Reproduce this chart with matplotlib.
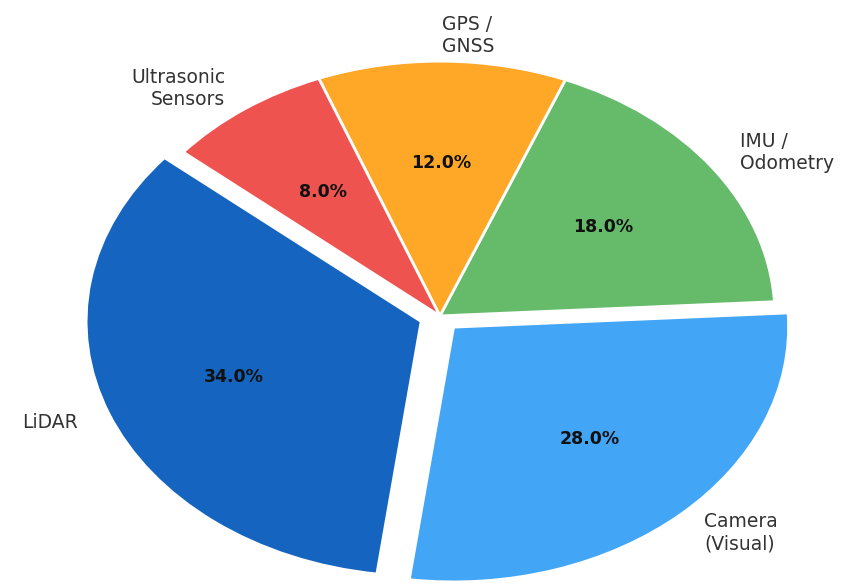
import matplotlib
matplotlib.use("Agg")
import matplotlib.pyplot as plt

labels = ["LiDAR", "Camera\n(Visual)", "IMU /\nOdometry", "GPS /\nGNSS", "Ultrasonic\nSensors"]
values = [34, 28, 18, 12, 8]
colors = ["#1565C0", "#42A5F5", "#66BB6A", "#FFA726", "#EF5350"]
explode = [0.06, 0.06, 0, 0, 0]

fig = plt.figure(figsize=(8.54, 5.86), dpi=100)
ax = fig.add_axes([0, 0, 1, 1])
wedges, texts, autotexts = ax.pie(
    values, labels=labels, colors=colors, explode=explode,
    startangle=140, autopct="%1.1f%%", pctdistance=0.6, labeldistance=1.1,
    wedgeprops=dict(edgecolor="white", linewidth=2),
    textprops=dict(fontsize=13.5, color="#333333"),
)
for t in autotexts:
    t.set_fontsize(12.5)
    t.set_fontweight("bold")
    t.set_color("#111111")
ax.set_aspect("auto")
ax.set_xlim(-1.313, 1.236)
ax.set_ylim(-1.06, 1.24)
ax.axis("off")
fig.savefig("out.png", dpi=100)
